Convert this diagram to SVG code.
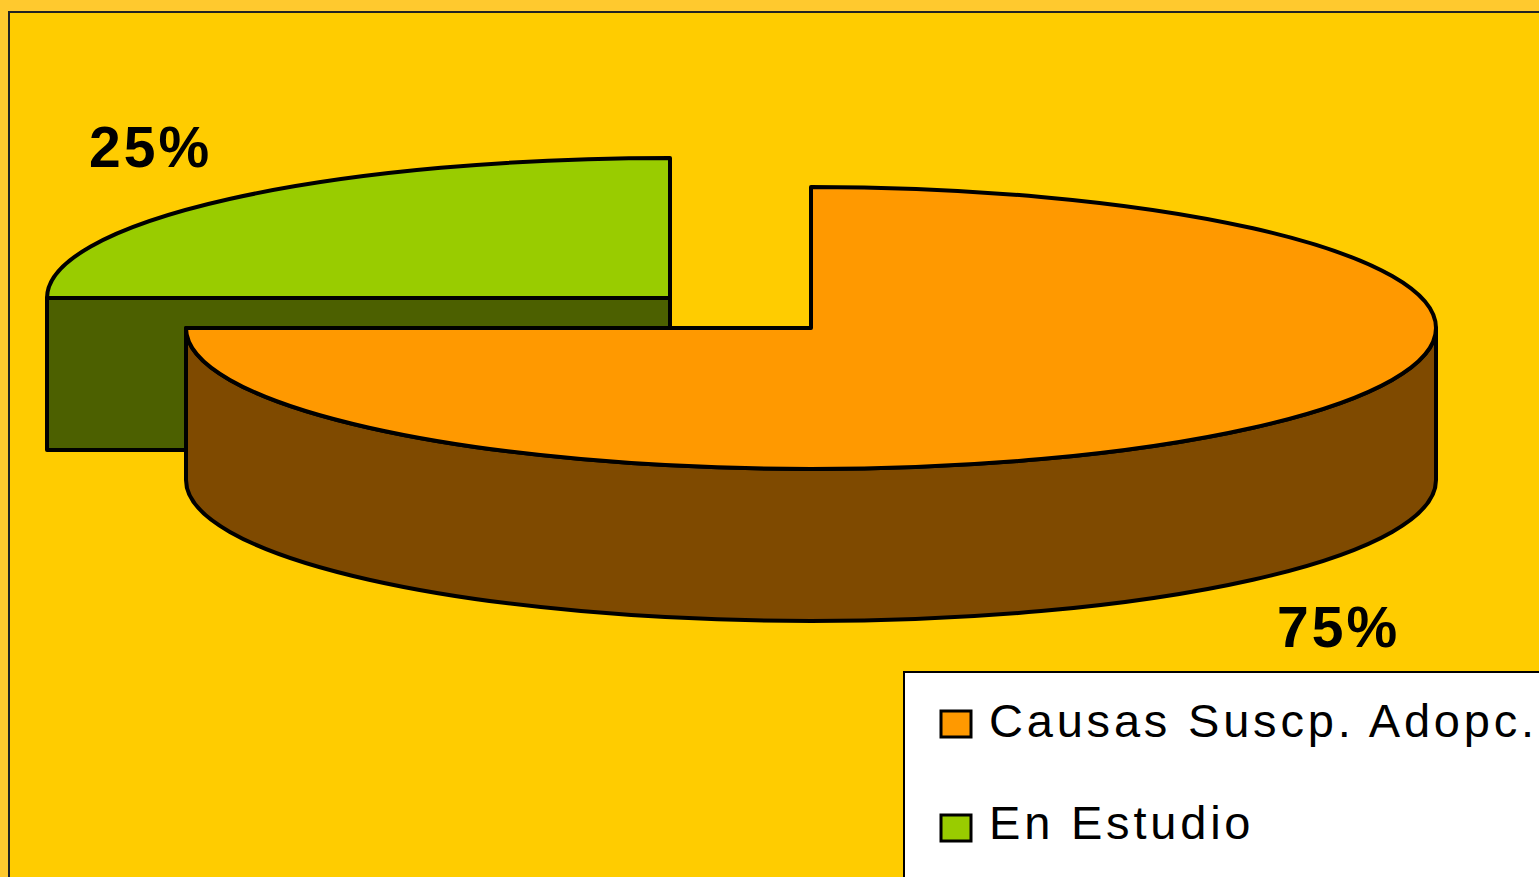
<svg xmlns="http://www.w3.org/2000/svg" width="1539" height="877" viewBox="0 0 1539 877">
  <style>
    .edge { stroke: #000; stroke-width: 4; stroke-linejoin: round; }
    .pct { font-family: "Liberation Sans", Arial, sans-serif; font-weight: bold; font-size: 57px; letter-spacing: 3px; fill: #000; }
    .leg { font-family: "Liberation Sans", Arial, sans-serif; font-size: 47px; letter-spacing: 3.8px; fill: #000; }
  </style>
  <rect x="0" y="0" width="1539" height="877" fill="#FFC92E"/>
  <rect x="9" y="12" width="1540" height="880" fill="#FFCC00" stroke="#222" stroke-width="2"/>

  <g id="slice-en-estudio">
    <rect class="edge" x="47" y="298" width="623" height="152" fill="#4C6000"/>
    <path class="edge" d="M670,298 L47,298 A623,140 0 0 1 670,158 Z" fill="#99CC00"/>
  </g>

  <g id="slice-causas">
    <path class="edge" d="M186,328 A625,141 0 0 0 1436,328 L1436,480 A625,141 0 0 1 186,480 Z" fill="#7F4A00"/>
    <path class="edge" d="M811,328 L811,187 A625,141 0 1 1 186,328 Z" fill="#FF9900"/>
  </g>

  <g id="labels">
    <text class="pct" x="89" y="167">25%</text>
    <text class="pct" x="1277" y="647">75%</text>
  </g>

  <g id="legend">
    <rect x="904" y="672" width="640" height="210" fill="#FFFFFF" stroke="#000" stroke-width="2"/>
    <rect x="941" y="711" width="30" height="26" fill="#FF9900" stroke="#000" stroke-width="3"/>
    <text class="leg" x="989" y="737">Causas Suscp. Adopc.</text>
    <rect x="941" y="815" width="30" height="26" fill="#99CC00" stroke="#000" stroke-width="3"/>
    <text class="leg" x="989" y="839">En Estudio</text>
  </g>
</svg>
